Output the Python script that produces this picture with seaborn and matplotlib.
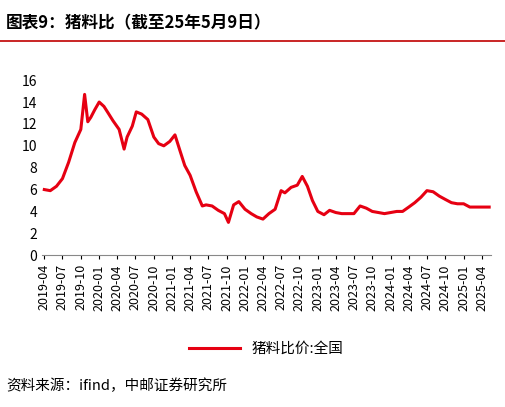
import matplotlib
matplotlib.use("Agg")
import matplotlib.pyplot as plt
import seaborn as sns
import pandas as pd

dates = ["2019-04-01","2019-05-01","2019-06-01","2019-07-01","2019-08-01","2019-09-01","2019-10-01","2019-10-20","2019-11-05","2019-11-20",
"2019-12-10","2020-01-01","2020-01-25","2020-02-15","2020-03-10","2020-04-10","2020-05-05","2020-05-20","2020-06-15","2020-07-05",
"2020-08-01","2020-09-01","2020-10-01","2020-10-25","2020-11-20","2020-12-20","2021-01-15","2021-02-10","2021-03-05","2021-04-01",
"2021-05-01","2021-06-01","2021-06-20","2021-07-20","2021-08-20","2021-09-20","2021-10-10","2021-11-05","2021-12-01","2022-01-01",
"2022-02-01","2022-03-01","2022-04-01","2022-05-01","2022-06-01","2022-07-01","2022-07-20","2022-08-20","2022-09-20","2022-10-15",
"2022-11-10","2022-12-05","2023-01-01","2023-02-01","2023-03-01","2023-04-01","2023-05-01","2023-06-01","2023-07-01","2023-08-01",
"2023-09-01","2023-10-01","2023-11-01","2023-12-01","2024-01-01","2024-02-01","2024-03-01","2024-04-01","2024-05-01","2024-06-01",
"2024-07-01","2024-08-01","2024-09-01","2024-10-01","2024-11-01","2024-12-01","2025-01-01","2025-02-01","2025-03-01","2025-04-01","2025-05-09"]
values = [6.0,5.9,6.3,7.0,8.5,10.3,11.5,14.7,12.2,12.6,
13.3,14.0,13.6,13.0,12.3,11.5,9.7,10.8,11.8,13.1,
12.9,12.4,10.8,10.2,10.0,10.4,11.0,9.5,8.2,7.3,
5.8,4.5,4.6,4.5,4.1,3.8,3.0,4.6,4.9,4.2,
3.8,3.5,3.3,3.8,4.2,5.9,5.7,6.2,6.4,7.2,
6.3,5.0,4.0,3.7,4.1,3.9,3.8,3.8,3.8,4.5,
4.3,4.0,3.9,3.8,3.9,4.0,4.0,4.4,4.8,5.3,
5.9,5.8,5.4,5.1,4.8,4.7,4.7,4.4,4.4,4.4,4.4]

plt.rcParams['font.family'] = ['Noto Sans CJK SC', 'DejaVu Sans']
df = pd.DataFrame({"date": pd.to_datetime(dates), "v": values})

fig = plt.figure(figsize=(5.05, 4.07), dpi=100)
ax = fig.add_axes([0.083, 0.373, 0.89, 0.43])
sns.lineplot(data=df, x="date", y="v", ax=ax, color="#e60012", lw=2.2, label="猪料比价:全国")
ax.set_ylim(0, 16)
ax.set_yticks(range(0, 17, 2))
ticks = pd.date_range("2019-04-01", "2025-04-01", freq="3MS")
ax.set_xticks(ticks)
ax.set_xticklabels([t.strftime("%Y-%m") for t in ticks], rotation=90, fontsize=9)
ax.set_xlim(pd.Timestamp("2019-03-20"), pd.Timestamp("2025-05-20"))
ax.tick_params(axis='y', labelsize=10, length=0)
ax.tick_params(axis='x', length=3, direction='out')
ax.set_xlabel(""); ax.set_ylabel("")
for s in ["top", "right", "left"]:
    ax.spines[s].set_visible(False)
ax.spines["bottom"].set_color("#888888")
ax.legend(loc="upper center", bbox_to_anchor=(0.5, -0.42), frameon=False, fontsize=10.5, handlelength=3.5)

fig.text(0.012, 0.965, "图表9：猪料比（截至25年5月9日）", fontsize=12, fontweight="bold", va="top")
fig.add_artist(plt.Line2D([0.0, 1.0], [0.9, 0.9], color="#c00000", lw=1.2))
fig.text(0.012, 0.035, "资料来源：ifind，中邮证券研究所", fontsize=10.5, va="bottom")
fig.savefig("out.png", dpi=100)
